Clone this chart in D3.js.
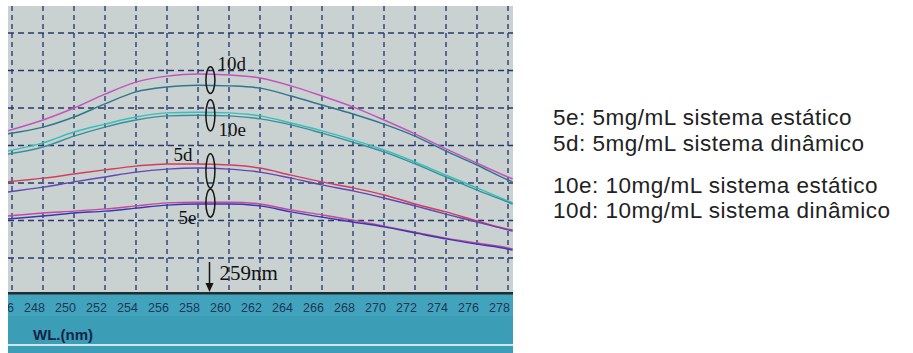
<!DOCTYPE html>
<html>
<head>
<meta charset="utf-8">
<script src="https://cdnjs.cloudflare.com/ajax/libs/d3/7.8.5/d3.min.js"></script>
<style>
  body { margin: 0; background: #fff; }
  .note { font-family: "Liberation Serif", "Times New Roman", serif; fill: #111; }
  .legend-text { font-family: "Liberation Sans", Arial, sans-serif; font-size: 22.5px; letter-spacing: 0.5px; fill: #222; }
</style>
</head>
<body>
<div class="container"></div>
<script>
// wavelength (nm) at each sample
const wavelengths = [245.7, 248, 250, 252, 254, 256, 258, 260, 262, 264, 266, 268, 270, 272, 274, 276, 278, 278.3];
// absorbance, two traces per sample
const abs10dA = [0.439, 0.468, 0.500, 0.537, 0.569, 0.585, 0.591, 0.588, 0.580, 0.559, 0.532, 0.503, 0.468, 0.431, 0.391, 0.353, 0.316, 0.311];
const abs10dB = [0.431, 0.449, 0.476, 0.511, 0.543, 0.556, 0.561, 0.559, 0.553, 0.532, 0.508, 0.484, 0.457, 0.425, 0.385, 0.348, 0.308, 0.303];
const abs10eA = [0.385, 0.407, 0.436, 0.457, 0.476, 0.487, 0.489, 0.487, 0.479, 0.460, 0.439, 0.415, 0.388, 0.356, 0.321, 0.287, 0.252, 0.247];
const abs10eB = [0.377, 0.396, 0.425, 0.449, 0.468, 0.479, 0.481, 0.479, 0.471, 0.455, 0.433, 0.409, 0.383, 0.351, 0.316, 0.281, 0.249, 0.244];
const abs5dA  = [0.303, 0.313, 0.324, 0.335, 0.345, 0.351, 0.351, 0.348, 0.340, 0.321, 0.303, 0.287, 0.268, 0.244, 0.223, 0.199, 0.177, 0.175];
const abs5dB  = [0.276, 0.289, 0.303, 0.316, 0.329, 0.337, 0.340, 0.337, 0.329, 0.313, 0.295, 0.279, 0.260, 0.239, 0.217, 0.196, 0.175, 0.172];
const abs5eA  = [0.212, 0.220, 0.225, 0.231, 0.239, 0.247, 0.249, 0.249, 0.244, 0.228, 0.215, 0.201, 0.185, 0.169, 0.153, 0.140, 0.127, 0.124];
const abs5eB  = [0.204, 0.212, 0.220, 0.225, 0.233, 0.241, 0.244, 0.244, 0.239, 0.223, 0.209, 0.196, 0.183, 0.167, 0.151, 0.137, 0.124, 0.121];

const xTicks = [246, 248, 250, 252, 254, 256, 258, 260, 262, 264, 266, 268, 270, 272, 274, 276, 278];
const yGrid = [0.1, 0.2, 0.3, 0.4, 0.5, 0.6, 0.7];

const tags = ['10d', '10e', '5d', '5e'];
const legendLines = [
  '5e: 5mg/mL sistema estático',
  '5d: 5mg/mL sistema dinâmico',
  '',
  '10e: 10mg/mL sistema estático',
  '10d: 10mg/mL sistema dinâmico'
];
const peakWl = 259;

function spectrum() {
  const W = 913, H = 353;
  const plot = {left: 8, right: 513, top: 6, bottom: 292};
  const band = {top: 292, bottom: 353};

  const svg = d3.select('.container')
    .append('svg')
    .attr('width', W)
    .attr('height', H);

  // scales
  let x = d3.scaleLinear().domain([246, 278]).range([12, 508]);
  let y = d3.scaleLinear().domain([0, 0.8]).range([295.5, -4.5]);

  svg.append('clipPath').attr('id', 'plotclip')
    .append('rect')
    .attr('x', plot.left).attr('y', plot.top)
    .attr('width', plot.right - plot.left).attr('height', plot.bottom - plot.top);
  svg.append('clipPath').attr('id', 'bandclip')
    .append('rect')
    .attr('x', plot.left).attr('y', band.top)
    .attr('width', plot.right - plot.left).attr('height', band.bottom - band.top);

  // screen background
  svg.append('rect')
    .attr('x', plot.left).attr('y', plot.top)
    .attr('width', plot.right - plot.left).attr('height', plot.bottom - plot.top)
    .attr('fill', '#c9d1d1');

  const g = svg.append('g').attr('clip-path', 'url(#plotclip)');

  // dashed grid
  g.append('g')
    .selectAll('line')
    .data(xTicks)
    .enter().append('line')
      .attr('x1', d => x(d)).attr('x2', d => x(d))
      .attr('y1', plot.top).attr('y2', plot.bottom)
      .attr('stroke', '#34477e')
      .attr('stroke-width', 1.5)
      .attr('stroke-dasharray', '5,4');
  g.append('g')
    .selectAll('line')
    .data(yGrid)
    .enter().append('line')
      .attr('x1', plot.left).attr('x2', plot.right)
      .attr('y1', d => y(d)).attr('y2', d => y(d))
      .attr('stroke', '#28386c')
      .attr('stroke-width', 1.5)
      .attr('stroke-dasharray', '6,4');

  // spectra
  const series = [
    {values: abs10dA, color: '#c653bd'},
    {values: abs10dB, color: '#30778e'},
    {values: abs10eA, color: '#38bfb8'},
    {values: abs10eB, color: '#3a8f9c'},
    {values: abs5dA,  color: '#d23f5c'},
    {values: abs5dB,  color: '#6148b8'},
    {values: abs5eA,  color: '#c54a98'},
    {values: abs5eB,  color: '#3a36b4'}
  ];
  let line = d3.line()
    .x((d, i) => x(wavelengths[i]))
    .y(d => y(d))
    .curve(d3.curveMonotoneX);

  g.append('g')
    .selectAll('path')
    .data(series)
    .enter().append('path')
      .attr('d', d => line(d.values))
      .attr('fill', 'none')
      .attr('stroke', d => d.color)
      .attr('stroke-width', 1.5);

  // ovals grouping the two traces of each sample, at the peak
  const ovalWl = peakWl - 0.2;
  const ovals = [
    {tag: tags[0], top: d3.max([abs10dA[7], abs10dB[7]]) + 0.022, bottom: d3.min([abs10dA[7], abs10dB[7]]) - 0.02, dx: 7, side: 'top', dy: 3},
    {tag: tags[1], top: d3.max([abs10eA[7], abs10eB[7]]) + 0.035, bottom: d3.min([abs10eA[7], abs10eB[7]]) - 0.04, dx: 8, side: 'bottom', dy: 5},
    {tag: tags[2], top: d3.max([abs5dA[7], abs5dB[7]]) + 0.03, bottom: d3.min([abs5dA[7], abs5dB[7]]) - 0.05, dx: -37, side: 'top', dy: 7},
    {tag: tags[3], top: d3.max([abs5eA[7], abs5eB[7]]) + 0.035, bottom: d3.min([abs5eA[7], abs5eB[7]]) - 0.035, dx: -32, side: 'bottom', dy: 7}
  ];
  svg.append('g')
    .selectAll('ellipse')
    .data(ovals)
    .enter().append('ellipse')
      .attr('cx', x(ovalWl))
      .attr('cy', d => (y(d.top) + y(d.bottom)) / 2)
      .attr('rx', 4.5)
      .attr('ry', d => (y(d.bottom) - y(d.top)) / 2)
      .attr('fill', 'none')
      .attr('stroke', '#151515')
      .attr('stroke-width', 1.5);
  svg.append('g')
    .selectAll('text')
    .data(ovals)
    .enter().append('text')
      .classed('note', true)
      .attr('x', d => x(ovalWl) + d.dx)
      .attr('y', d => (d.side === 'top' ? y(d.top) : y(d.bottom)) + d.dy)
      .style('font-size', '19px')
      .text(d => d.tag);

  // peak marker
  const px = x(peakWl) - 4;
  svg.append('line')
    .attr('x1', px).attr('x2', px)
    .attr('y1', 262).attr('y2', 284)
    .attr('stroke', '#151515')
    .attr('stroke-width', 1.5);
  svg.append('path')
    .attr('d', `M${px - 4},${283} L${px + 4},${283} L${px},${292} Z`)
    .attr('fill', '#151515');
  svg.append('text')
    .classed('note', true)
    .attr('x', px + 10)
    .attr('y', 280)
    .style('font-size', '21px')
    .text(peakWl + 'nm');

  // axis band at the bottom of the screen
  const b = svg.append('g').attr('clip-path', 'url(#bandclip)');
  b.append('rect')
    .attr('x', plot.left).attr('y', band.top)
    .attr('width', plot.right - plot.left).attr('height', band.bottom - band.top)
    .attr('fill', '#3b9db6');
  b.append('rect')
    .attr('x', plot.left).attr('y', band.top)
    .attr('width', plot.right - plot.left).attr('height', 24)
    .attr('fill', '#42a4bc');
  b.append('rect')
    .attr('x', plot.left).attr('y', 344)
    .attr('width', plot.right - plot.left).attr('height', 2)
    .attr('fill', '#cde6ec');
  b.append('rect')
    .attr('x', plot.left).attr('y', band.top)
    .attr('width', plot.right - plot.left).attr('height', 2.5)
    .attr('fill', '#1f2c34');

  let xAxis = d3.axisBottom(x).tickValues(xTicks).tickSize(0).tickFormat(d3.format('d'));
  b.append('g')
    .attr('transform', 'translate(0,' + (band.top + 8) + ')')
    .call(xAxis)
    .call(s => s.select('.domain').remove())
    .selectAll('text')
      .attr('dx', -9)
      .attr('fill', '#1c3558')
      .style('font-size', '12.5px')
      .style('font-family', '"Liberation Sans", Arial, sans-serif');

  b.append('text')
    .attr('x', 33)
    .attr('y', 340)
    .style('font-family', '"Liberation Sans", Arial, sans-serif')
    .style('font-weight', 'bold')
    .style('font-size', '15px')
    .attr('fill', '#14254a')
    .text('WL.(nm)');

  // legend on the right, a blank line between the two concentrations
  svg.append('g')
    .selectAll('text')
    .data(legendLines)
    .enter().append('text')
      .classed('legend-text', true)
      .attr('x', 553)
      .attr('y', (d, i) => 125 + i * 25.5 - (i > 2 ? 9 : 0))
      .text(d => d);
}

spectrum();
</script>
</body>
</html>
